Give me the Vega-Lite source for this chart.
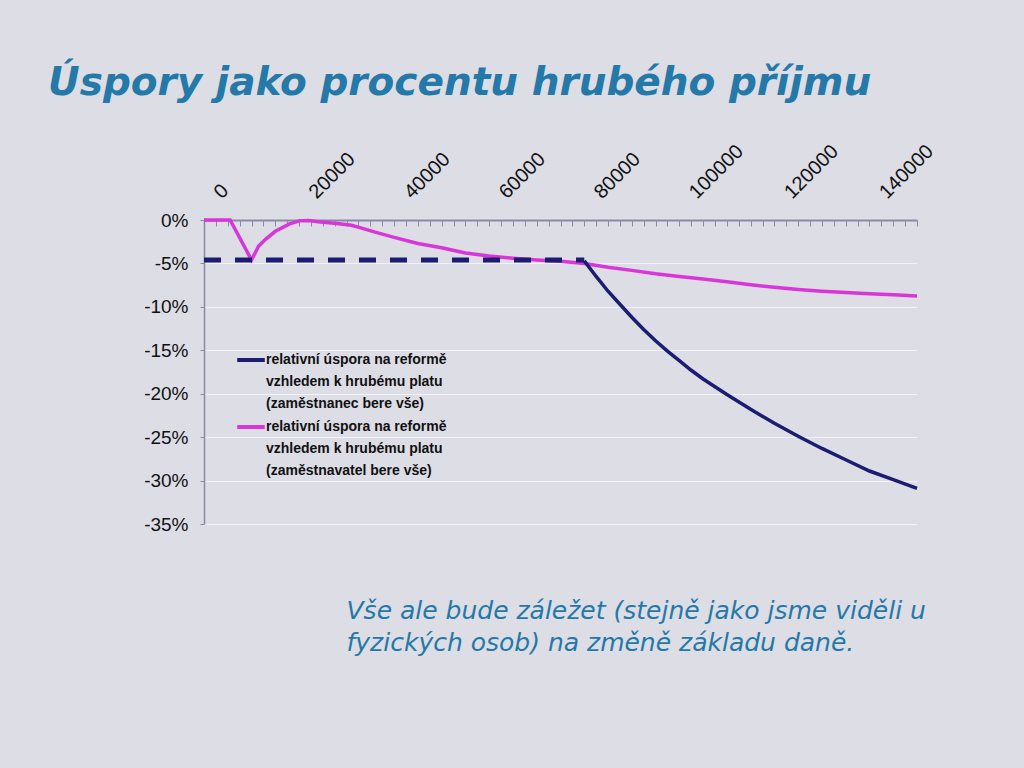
{
  "$schema": "https://vega.github.io/schema/vega-lite/v6.json",
  "width": 713,
  "height": 304,
  "autosize": {"type": "none"},
  "padding": {"left": 204, "top": 220, "right": 107, "bottom": 244},
  "background": "#dddde5",
  "title": {
    "text": "Úspory jako procentu hrubého příjmu",
    "anchor": "start",
    "frame": "group",
    "dx": -156,
    "offset": 7,
    "baseline": "alphabetic",
    "font": "DejaVu Sans",
    "fontStyle": "italic",
    "fontWeight": "bold",
    "fontSize": 39,
    "color": "#2479a8"
  },
  "config": {"view": {"stroke": null}, "font": "Liberation Sans"},
  "datasets": {
    "lines": [
      {"series": "relativní úspora na reformě|vzhledem k hrubému platu|(zaměstnavatel bere vše)", "x": 0, "y": 0},
      {"series": "relativní úspora na reformě|vzhledem k hrubému platu|(zaměstnavatel bere vše)", "x": 5500, "y": 0},
      {"series": "relativní úspora na reformě|vzhledem k hrubému platu|(zaměstnavatel bere vše)", "x": 10000, "y": -4.6},
      {"series": "relativní úspora na reformě|vzhledem k hrubému platu|(zaměstnavatel bere vše)", "x": 11500, "y": -3.0},
      {"series": "relativní úspora na reformě|vzhledem k hrubému platu|(zaměstnavatel bere vše)", "x": 13000, "y": -2.2},
      {"series": "relativní úspora na reformě|vzhledem k hrubému platu|(zaměstnavatel bere vše)", "x": 15000, "y": -1.3},
      {"series": "relativní úspora na reformě|vzhledem k hrubému platu|(zaměstnavatel bere vše)", "x": 18000, "y": -0.45},
      {"series": "relativní úspora na reformě|vzhledem k hrubému platu|(zaměstnavatel bere vše)", "x": 20000, "y": -0.1},
      {"series": "relativní úspora na reformě|vzhledem k hrubému platu|(zaměstnavatel bere vše)", "x": 22000, "y": -0.05},
      {"series": "relativní úspora na reformě|vzhledem k hrubému platu|(zaměstnavatel bere vše)", "x": 24000, "y": -0.2},
      {"series": "relativní úspora na reformě|vzhledem k hrubému platu|(zaměstnavatel bere vše)", "x": 28000, "y": -0.4},
      {"series": "relativní úspora na reformě|vzhledem k hrubému platu|(zaměstnavatel bere vše)", "x": 31000, "y": -0.6},
      {"series": "relativní úspora na reformě|vzhledem k hrubému platu|(zaměstnavatel bere vše)", "x": 33000, "y": -0.9},
      {"series": "relativní úspora na reformě|vzhledem k hrubému platu|(zaměstnavatel bere vše)", "x": 36000, "y": -1.4},
      {"series": "relativní úspora na reformě|vzhledem k hrubému platu|(zaměstnavatel bere vše)", "x": 40000, "y": -2.0},
      {"series": "relativní úspora na reformě|vzhledem k hrubému platu|(zaměstnavatel bere vše)", "x": 45000, "y": -2.7},
      {"series": "relativní úspora na reformě|vzhledem k hrubému platu|(zaměstnavatel bere vše)", "x": 50000, "y": -3.2},
      {"series": "relativní úspora na reformě|vzhledem k hrubému platu|(zaměstnavatel bere vše)", "x": 55000, "y": -3.8},
      {"series": "relativní úspora na reformě|vzhledem k hrubému platu|(zaměstnavatel bere vše)", "x": 60000, "y": -4.15},
      {"series": "relativní úspora na reformě|vzhledem k hrubému platu|(zaměstnavatel bere vše)", "x": 65000, "y": -4.4},
      {"series": "relativní úspora na reformě|vzhledem k hrubému platu|(zaměstnavatel bere vše)", "x": 70000, "y": -4.6},
      {"series": "relativní úspora na reformě|vzhledem k hrubému platu|(zaměstnavatel bere vše)", "x": 75000, "y": -4.75},
      {"series": "relativní úspora na reformě|vzhledem k hrubému platu|(zaměstnavatel bere vše)", "x": 80000, "y": -5.0},
      {"series": "relativní úspora na reformě|vzhledem k hrubému platu|(zaměstnavatel bere vše)", "x": 85000, "y": -5.45},
      {"series": "relativní úspora na reformě|vzhledem k hrubému platu|(zaměstnavatel bere vše)", "x": 90000, "y": -5.8},
      {"series": "relativní úspora na reformě|vzhledem k hrubému platu|(zaměstnavatel bere vše)", "x": 95000, "y": -6.2},
      {"series": "relativní úspora na reformě|vzhledem k hrubému platu|(zaměstnavatel bere vše)", "x": 100000, "y": -6.5},
      {"series": "relativní úspora na reformě|vzhledem k hrubému platu|(zaměstnavatel bere vše)", "x": 105000, "y": -6.8},
      {"series": "relativní úspora na reformě|vzhledem k hrubému platu|(zaměstnavatel bere vše)", "x": 110000, "y": -7.1},
      {"series": "relativní úspora na reformě|vzhledem k hrubému platu|(zaměstnavatel bere vše)", "x": 115000, "y": -7.45},
      {"series": "relativní úspora na reformě|vzhledem k hrubému platu|(zaměstnavatel bere vše)", "x": 120000, "y": -7.75},
      {"series": "relativní úspora na reformě|vzhledem k hrubému platu|(zaměstnavatel bere vše)", "x": 125000, "y": -8.0},
      {"series": "relativní úspora na reformě|vzhledem k hrubému platu|(zaměstnavatel bere vše)", "x": 130000, "y": -8.2},
      {"series": "relativní úspora na reformě|vzhledem k hrubému platu|(zaměstnavatel bere vše)", "x": 135000, "y": -8.35},
      {"series": "relativní úspora na reformě|vzhledem k hrubému platu|(zaměstnavatel bere vše)", "x": 140000, "y": -8.5},
      {"series": "relativní úspora na reformě|vzhledem k hrubému platu|(zaměstnavatel bere vše)", "x": 145000, "y": -8.6},
      {"series": "relativní úspora na reformě|vzhledem k hrubému platu|(zaměstnavatel bere vše)", "x": 150000, "y": -8.75},
      {"series": "relativní úspora na reformě|vzhledem k hrubému platu|(zaměstnanec bere vše)", "x": 80000, "y": -4.7},
      {"series": "relativní úspora na reformě|vzhledem k hrubému platu|(zaměstnanec bere vše)", "x": 82500, "y": -6.5},
      {"series": "relativní úspora na reformě|vzhledem k hrubému platu|(zaměstnanec bere vše)", "x": 85000, "y": -8.2},
      {"series": "relativní úspora na reformě|vzhledem k hrubému platu|(zaměstnanec bere vše)", "x": 87500, "y": -9.7},
      {"series": "relativní úspora na reformě|vzhledem k hrubému platu|(zaměstnanec bere vše)", "x": 90000, "y": -11.2},
      {"series": "relativní úspora na reformě|vzhledem k hrubému platu|(zaměstnanec bere vše)", "x": 92500, "y": -12.6},
      {"series": "relativní úspora na reformě|vzhledem k hrubému platu|(zaměstnanec bere vše)", "x": 95000, "y": -13.9},
      {"series": "relativní úspora na reformě|vzhledem k hrubému platu|(zaměstnanec bere vše)", "x": 97500, "y": -15.1},
      {"series": "relativní úspora na reformě|vzhledem k hrubému platu|(zaměstnanec bere vše)", "x": 100000, "y": -16.2},
      {"series": "relativní úspora na reformě|vzhledem k hrubému platu|(zaměstnanec bere vše)", "x": 102500, "y": -17.3},
      {"series": "relativní úspora na reformě|vzhledem k hrubému platu|(zaměstnanec bere vše)", "x": 105000, "y": -18.3},
      {"series": "relativní úspora na reformě|vzhledem k hrubému platu|(zaměstnanec bere vše)", "x": 107500, "y": -19.2},
      {"series": "relativní úspora na reformě|vzhledem k hrubému platu|(zaměstnanec bere vše)", "x": 110000, "y": -20.1},
      {"series": "relativní úspora na reformě|vzhledem k hrubému platu|(zaměstnanec bere vše)", "x": 115000, "y": -21.8},
      {"series": "relativní úspora na reformě|vzhledem k hrubému platu|(zaměstnanec bere vše)", "x": 120000, "y": -23.4},
      {"series": "relativní úspora na reformě|vzhledem k hrubému platu|(zaměstnanec bere vše)", "x": 125000, "y": -24.9},
      {"series": "relativní úspora na reformě|vzhledem k hrubému platu|(zaměstnanec bere vše)", "x": 130000, "y": -26.3},
      {"series": "relativní úspora na reformě|vzhledem k hrubému platu|(zaměstnanec bere vše)", "x": 135000, "y": -27.6},
      {"series": "relativní úspora na reformě|vzhledem k hrubému platu|(zaměstnanec bere vše)", "x": 140000, "y": -28.9},
      {"series": "relativní úspora na reformě|vzhledem k hrubému platu|(zaměstnanec bere vše)", "x": 145000, "y": -29.9},
      {"series": "relativní úspora na reformě|vzhledem k hrubému platu|(zaměstnanec bere vše)", "x": 150000, "y": -30.9}
    ],
    "flat": [
      {"x": 0, "y": -4.6},
      {"x": 80000, "y": -4.6}
    ]
  },
  "layer": [
    {
      "data": {"name": "lines"},
      "mark": {"type": "line", "strokeWidth": 3.5, "clip": false},
      "encoding": {
        "x": {
          "field": "x",
          "type": "quantitative",
          "scale": {"domain": [0, 150000], "nice": false, "zero": false},
          "axis": {
            "orient": "top",
            "title": null,
            "values": [0,2500,5000,7500,10000,12500,15000,17500,20000,22500,25000,27500,30000,32500,35000,37500,40000,42500,45000,47500,50000,52500,55000,57500,60000,62500,65000,67500,70000,72500,75000,77500,80000,82500,85000,87500,90000,92500,95000,97500,100000,102500,105000,107500,110000,112500,115000,117500,120000,122500,125000,127500,130000,132500,135000,137500,140000,142500,145000,147500,150000],
            "format": "d",
            "labelExpr": "datum.value % 20000 === 0 ? datum.label : ''",
            "labelAngle": -45,
            "labelAlign": "left",
            "labelBaseline": "middle",
            "labelFont": "Liberation Sans",
            "labelFontSize": 20,
            "labelColor": "#111111",
            "labelPadding": 31,
            "labelOffset": 13,
            "labelOverlap": false,
            "labelFlush": false,
            "labelBound": false,
            "tickSize": -6,
            "tickColor": "#8a8aa8",
            "tickWidth": 1,
            "domainColor": "#8a8aa8",
            "domainWidth": 2,
            "grid": false
          }
        },
        "y": {
          "field": "y",
          "type": "quantitative",
          "scale": {"domain": [-35, 0], "nice": false},
          "axis": {
            "title": null,
            "values": [-35, -30, -25, -20, -15, -10, -5, 0],
            "labelExpr": "datum.value + '%'",
            "labelFont": "Liberation Sans",
            "labelFontSize": 19,
            "labelColor": "#111111",
            "labelPadding": 12,
            "tickSize": 4,
            "tickColor": "#8a8aa8",
            "domainColor": "#8a8aa8",
            "domainWidth": 1.5,
            "grid": true,
            "gridColor": "#f3f3f7",
            "gridWidth": 1
          }
        },
        "color": {
          "field": "series",
          "type": "nominal",
          "scale": {
            "domain": [
              "relativní úspora na reformě|vzhledem k hrubému platu|(zaměstnanec bere vše)",
              "relativní úspora na reformě|vzhledem k hrubému platu|(zaměstnavatel bere vše)"
            ],
            "range": ["#1c1c72", "#d836d8"]
          },
          "legend": {
            "orient": "none",
            "legendX": 31,
            "legendY": 124,
            "title": null,
            "symbolType": "stroke",
            "symbolStrokeWidth": 4,
            "symbolSize": 760,
            "labelExpr": "split(datum.label, '|')",
            "labelFont": "Liberation Sans Narrow, Liberation Sans",
            "labelFontWeight": "bold",
            "labelFontSize": 14,
            "labelColor": "#111111",
            "labelBaseline": "top",
            "labelOffset": -1,
            "labelLimit": 400,
            "rowPadding": -6,
            "encode": {
              "labels": {"update": {"lineHeight": {"value": 22}, "dy": {"value": -7}}}
            }
          }
        }
      }
    },
    {
      "data": {"name": "flat"},
      "mark": {"type": "line", "color": "#1c1c72", "strokeWidth": 5, "strokeDash": [17, 14]},
      "encoding": {
        "x": {
          "field": "x",
          "type": "quantitative",
          "axis": {
            "orient": "bottom",
            "labels": false,
            "ticks": false,
            "domain": false,
            "grid": false,
            "title": ["Vše ale bude záležet (stejně jako jsme viděli u", "fyzických osob) na změně základu daně."],
            "titleFont": "DejaVu Sans",
            "titleFontStyle": "italic",
            "titleFontWeight": "normal",
            "titleFontSize": 25,
            "titleColor": "#2479a8",
            "titleAnchor": "start",
            "titleAlign": "left",
            "titleBaseline": "alphabetic",
            "titleX": 142,
            "titleY": 94,
            "titleLineHeight": 32
          }
        },
        "y": {"field": "y", "type": "quantitative"}
      }
    }
  ],
  "resolve": {"axis": {"x": "independent"}}
}
